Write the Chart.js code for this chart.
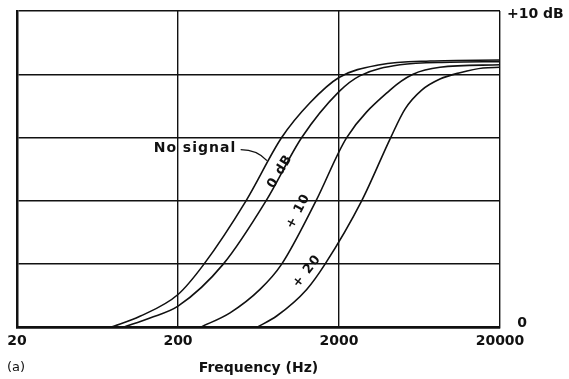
<!DOCTYPE html>
<html>
<head>
<meta charset="utf-8">
<script src="https://cdn.jsdelivr.net/npm/chart.js@4.4.1/dist/chart.umd.min.js"></script>
<style>
  html, body { margin: 0; padding: 0; background: #fff; }
  #wrap { width: 569px; height: 379px; }
</style>
</head>
<body>
<div id="wrap"><canvas id="chart" width="569" height="379"></canvas></div>
<script>
// axis ticks
const freqTicks = [20, 200, 2000, 20000];
const dbTicks = [0, 2, 4, 6, 8, 10];

// curves: frequency (Hz) and level (dB)
const noSignalHz = [76, 116, 200, 290, 529, 881, 1321, 2000, 3594, 7350, 20000];
const noSignalDb = [0, 0.35, 1.04, 2.0, 4.0, 6.0, 7.1, 7.9, 8.3, 8.42, 8.45];

const zeroDbHz = [91, 134, 200, 382, 704, 1174, 2000, 2690, 4786, 9786, 20000];
const zeroDbDb = [0, 0.3, 0.67, 2.0, 4.0, 6.0, 7.45, 7.95, 8.3, 8.38, 8.4];

const plus10Hz = [274, 421, 646, 881, 1439, 2233, 4149, 5770, 8477, 20000];
const plus10Db = [0, 0.46, 1.2, 2.0, 4.0, 6.0, 7.5, 8.0, 8.22, 8.3];

const plus20Hz = [616, 820, 1260, 1638, 2766, 4190, 5140, 6528, 8477, 11290, 15688, 20000];
const plus20Db = [0, 0.36, 1.2, 2.0, 4.0, 6.0, 6.9, 7.5, 7.85, 8.05, 8.2, 8.22];

const ink = "#111";
const font = { family: "DejaVu Sans", size: 14, weight: "bold" };

function pts(hz, db) {
  return hz.map((f, i) => ({ x: f, y: db[i] }));
}

function curve(label, hz, db) {
  return {
    label: label,
    data: pts(hz, db),
    borderColor: ink,
    backgroundColor: ink,
    borderWidth: 1.6,
    pointRadius: 0,
    fill: false,
    cubicInterpolationMode: "monotone",
  };
}

// curve names, small figure label, right-hand level marks
const annotate = {
  id: "annotate",
  afterDraw(chart) {
    const { ctx, chartArea: a, scales: { x, y } } = chart;
    ctx.save();
    ctx.fillStyle = ink;
    ctx.strokeStyle = ink;
    ctx.font = 'bold 14px "DejaVu Sans"';
    ctx.letterSpacing = "1px";

    // "No signal" with its leader line
    ctx.textAlign = "right";
    ctx.textBaseline = "middle";
    ctx.fillText("No signal", x.getPixelForValue(460), y.getPixelForValue(5.65));
    ctx.lineWidth = 1.3;
    ctx.beginPath();
    ctx.moveTo(x.getPixelForValue(490), y.getPixelForValue(5.62));
    ctx.quadraticCurveTo(x.getPixelForValue(620), y.getPixelForValue(5.62),
                         x.getPixelForValue(714), y.getPixelForValue(5.27));
    ctx.stroke();

    // labels along the curves
    ctx.font = 'bold 13px "DejaVu Sans"';
    const tilted = (text, hz, db, deg) => {
      ctx.save();
      ctx.translate(x.getPixelForValue(hz), y.getPixelForValue(db));
      ctx.rotate(deg * Math.PI / 180);
      ctx.textAlign = "center";
      ctx.textBaseline = "middle";
      ctx.fillText(text, 0, 0);
      ctx.restore();
    };
    tilted("0 dB", 860, 4.93, -59);
    tilted("+ 10", 1117, 3.67, -62);
    tilted("+ 20", 1265, 1.77, -52);

    // level marks on the right
    ctx.font = 'bold 14px "DejaVu Sans"';
    ctx.letterSpacing = "0px";
    ctx.textAlign = "left";
    ctx.fillText("+10 dB", a.right + 7, a.top + 3);
    ctx.textAlign = "center";
    ctx.fillText("0", a.right + 22, a.bottom - 4);

    ctx.font = '13px "DejaVu Sans"';
    ctx.textAlign = "left";
    ctx.fillText("(a)", 7, 368);
    ctx.restore();
  }
};

new Chart(document.getElementById("chart"), {
  type: "line",
  data: {
    datasets: [
      curve("No signal", noSignalHz, noSignalDb),
      curve("0 dB", zeroDbHz, zeroDbDb),
      curve("+10", plus10Hz, plus10Db),
      curve("+20", plus20Hz, plus20Db),
    ],
  },
  options: {
    responsive: false,
    animation: false,
    layout: { padding: { left: 17, right: 69, top: 11, bottom: 2 } },
    plugins: {
      legend: { display: false },
      tooltip: { enabled: false },
    },
    scales: {
      x: {
        type: "logarithmic",
        min: 20,
        max: 20000,
        afterBuildTicks: (axis) => {
          axis.ticks = freqTicks.map((v) => ({ value: v }));
        },
        grid: { color: ink, lineWidth: 1.4, drawTicks: false },
        border: { color: ink, width: 2.5 },
        ticks: {
          color: ink,
          font: font,
          padding: 6,
          maxRotation: 0,
          autoSkip: false,
          callback: (v) => String(v),
        },
        title: {
          display: true,
          text: "Frequency (Hz)",
          color: ink,
          font: font,
          padding: { top: 4, bottom: 0 },
        },
      },
      y: {
        min: 0,
        max: 10,
        afterBuildTicks: (axis) => {
          axis.ticks = dbTicks.map((v) => ({ value: v }));
        },
        grid: { color: ink, lineWidth: 1.4, drawTicks: false },
        border: { color: ink, width: 2.5 },
        ticks: { display: false },
      },
    },
  },
  plugins: [annotate],
});
</script>
</body>
</html>
